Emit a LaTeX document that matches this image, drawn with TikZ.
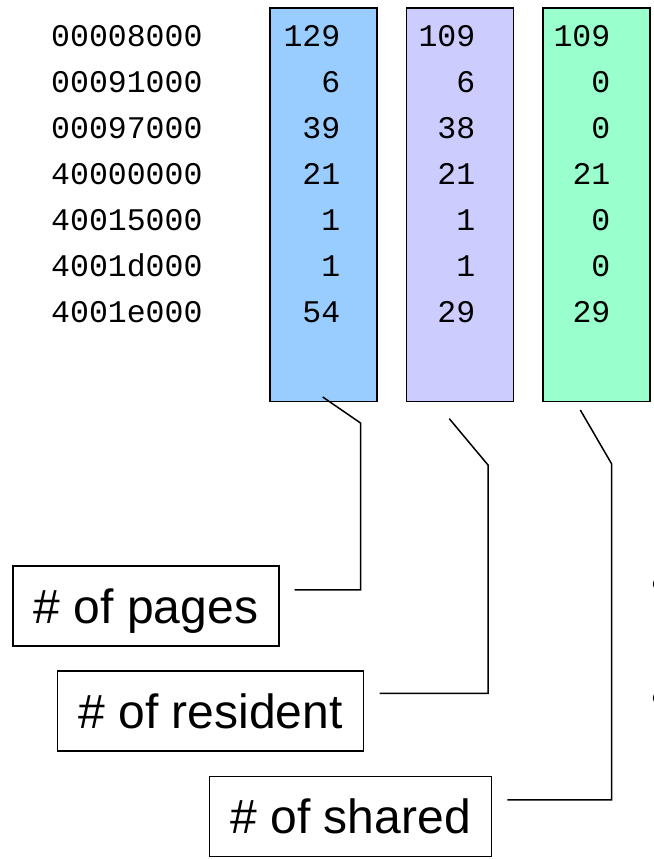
\documentclass[tikz,border=0pt]{standalone}
\usepackage{fontspec}
\setmainfont{Liberation Sans}
\setmonofont{Liberation Mono}
\usetikzlibrary{positioning,calc}
\definecolor{pagesblue}{HTML}{99CCFF}
\definecolor{residpurple}{HTML}{CCCCFF}
\definecolor{sharedgreen}{HTML}{99FFCC}
\tikzset{
  colbox/.style={draw=black,line width=1.5pt,minimum width=107pt,minimum height=393.5pt,anchor=north west,inner sep=0pt},
  addr/.style={font=\ttfamily\fontsize{31.5}{34}\selectfont,anchor=base west,inner sep=0pt},
  num/.style={font=\ttfamily\fontsize{31.5}{34}\selectfont,anchor=base east,inner sep=0pt},
  lbl/.style={draw=black,line width=1.2pt,fill=white,font=\fontsize{48}{52}\selectfont,text height=49pt,text depth=15pt,inner xsep=21pt,inner ysep=8pt,anchor=south west},
  bul/.style={font=\fontsize{48}{52}\selectfont,inner sep=0pt},
  callout/.style={draw=black,line width=1.5pt}
}

\begin{document}
\begin{tikzpicture}[x=1pt,y=1pt]
\path[use as bounding box,fill=white] (0,0) rectangle (653,859);

% the three count columns
\node[colbox,fill=pagesblue] (pages) at (269,851.5) {};
\node[colbox,fill=residpurple] (resid) at (405.5,851.5) {};
\node[colbox,fill=sharedgreen] (shared) at (542,851.5) {};

% one row per mapping
\foreach \a/\p/\r/\s [count=\i from 0] in {00008000/129/109/109,00091000/6/6/0,00097000/39/38/0,40000000/21/21/21,40015000/1/1/0,4001d000/1/1/0,4001e000/54/29/29}{
  \node[addr] (a\i) at (51,812.3-46*\i) {\a};
  \node[num] (p\i) at (340.5,812.3-46*\i) {\p};
  \node[num] (r\i) at (475.5,812.3-46*\i) {\r};
  \node[num] (s\i) at (610.5,812.3-46*\i) {\s};
}

% labels
\node[lbl] (lpages) at (12.3,212.3) {\# of pages};
\node[lbl] (lresid) at (57,107.3) {\# of resident};
\node[lbl] (lshared) at (209,2) {\# of shared};

% callout lines
\coordinate (tpages) at (322.7,462);
\coordinate (kpages) at (360.5,436);
\coordinate (tresid) at (449.3,440.3);
\coordinate (kresid) at (488,394);
\coordinate (tshared) at (580.3,449);
\coordinate (kshared) at (611.7,395);
\draw[callout] ([shift={(15,-24.3)}]lpages.north east) -| (kpages) -- (tpages);
\draw[callout] ([shift={(15.3,-23)}]lresid.north east) -| (kresid) -- (tresid);
\draw[callout] ([shift={(15,-24)}]lshared.north east) -| (kshared) -- (tshared);

% bullets cut by the right edge
\node[bul] (b1) at (660,270) {•};
\node[bul] (b2) at (660,156) {•};
\end{tikzpicture}
\end{document}
